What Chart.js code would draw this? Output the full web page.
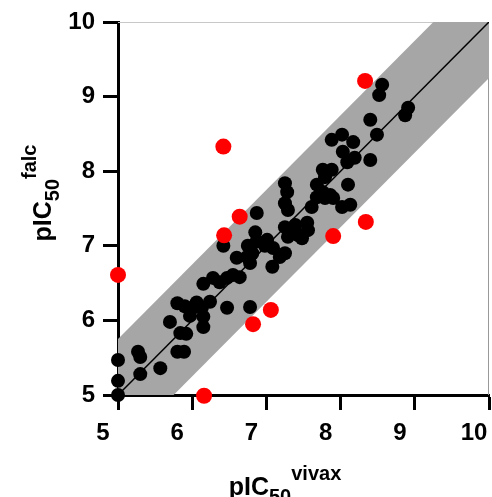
<!DOCTYPE html>
<html>
<head>
<meta charset="utf-8">
<script src="https://cdn.jsdelivr.net/npm/chart.js@4"></script>
<style>
  html, body { margin: 0; padding: 0; background: #fff; }
  canvas { display: block; }
</style>
</head>
<body>
<canvas id="chart" width="492" height="497"></canvas>
<script>
// Black compounds (within the band)
const blackX = [5.00, 5.00, 5.00, 5.27, 5.30, 5.30, 5.57, 5.70, 5.80, 5.89, 5.84, 5.92, 5.80, 5.90, 6.01, 5.97,
  6.13, 6.15, 6.24, 6.15, 6.47, 6.78, 6.15, 6.28, 6.37, 6.47, 6.55, 6.64, 6.42, 6.60, 6.78, 6.75,
  6.81, 6.85, 6.87, 6.87, 6.98, 7.01, 7.09, 7.08, 6.74, 7.18, 7.25, 7.36, 7.25, 7.39, 7.55, 7.43,
  7.29, 7.56, 7.48, 7.25, 7.28, 7.25, 7.29, 7.68, 7.61, 7.68, 7.76, 7.88, 7.79, 7.76, 7.86, 7.90,
  8.10, 8.02, 8.13, 7.88, 8.02, 8.17, 8.03, 8.09, 8.19, 8.40, 8.40, 8.49, 8.56, 8.52, 8.91, 8.87,
  7.79, 6.06];
const blackY = [5.00, 5.19, 5.47, 5.58, 5.51, 5.28, 5.36, 5.98, 5.58, 5.58, 5.83, 5.82, 6.23, 6.19, 6.17, 6.06,
  6.17, 6.05, 6.25, 5.91, 6.17, 6.18, 6.49, 6.57, 6.51, 6.57, 6.61, 6.58, 7.00, 6.84, 6.77, 7.00,
  6.90, 7.18, 7.06, 7.44, 7.00, 7.08, 6.97, 6.72, 6.85, 6.85, 6.90, 7.18, 7.25, 7.28, 7.31, 7.14,
  7.12, 7.21, 7.10, 7.84, 7.72, 7.57, 7.48, 7.82, 7.52, 7.65, 8.02, 8.02, 7.92, 7.72, 7.68, 7.64,
  7.82, 7.52, 7.55, 8.42, 8.49, 8.39, 8.26, 8.12, 8.18, 8.15, 8.69, 8.49, 9.16, 9.02, 8.85, 8.75,
  7.64, 6.24];

// Red compounds (outliers)
const redX = [5.00, 6.42, 8.33, 6.64, 6.43, 7.90, 8.34, 7.06, 6.82, 6.16];
const redY = [6.61, 8.33, 9.21, 7.39, 7.14, 7.13, 7.32, 6.14, 5.95, 4.99];

// Axis range and ticks
const axisMin = 5;
const axisMax = 10;
const tickStep = 1;
// Half width of the grey agreement band (log units)
const bandHalf = 0.75;
// x values that span the identity line
const lineX = [axisMin, axisMax];

const toPoints = (xs, ys) => xs.map((x, i) => ({ x: x, y: ys[i] }));

const FONT = "'Liberation Sans', Arial, sans-serif";

// Draw "pIC50^xxx" with a subscript and a superscript, centred on x
const drawTitle = function drawRichTitle(ctx, sup, cx, baseline) {
  const parts = [
    { t: 'pIC', size: 25, dy: 0 },
    { t: '50', size: 20, dy: 8 },
    { t: sup, size: 20, dy: -15 },
  ];
  let total = 0;
  parts.forEach((p) => {
    ctx.font = 'bold ' + p.size + 'px ' + FONT;
    p.w = ctx.measureText(p.t).width;
    total += p.w;
  });
  let x = cx - total / 2;
  ctx.fillStyle = '#000';
  ctx.textBaseline = 'alphabetic';
  ctx.textAlign = 'left';
  parts.forEach((p) => {
    ctx.font = 'bold ' + p.size + 'px ' + FONT;
    ctx.fillText(p.t, x, baseline + p.dy);
    x += p.w;
  });
};

const titlesPlugin = {
  id: 'titles',
  beforeDatasetsDraw(chart) {
    // thin frame on top and right
    const { ctx, chartArea } = chart;
    ctx.save();
    ctx.lineWidth = 1;
    ctx.strokeStyle = '#c8c8c8';
    ctx.beginPath();
    ctx.moveTo(chartArea.left, chartArea.top + 0.5);
    ctx.lineTo(chartArea.right, chartArea.top + 0.5);
    ctx.stroke();
    ctx.strokeStyle = '#999';
    ctx.beginPath();
    ctx.moveTo(chartArea.right - 0.5, chartArea.top);
    ctx.lineTo(chartArea.right - 0.5, chartArea.bottom);
    ctx.stroke();
    ctx.restore();
  },
  afterDraw(chart) {
    const ctx = chart.ctx;
    ctx.save();
    drawTitle(ctx, 'vivax', 285, 495);
    ctx.restore();
    ctx.save();
    ctx.translate(51, 193);
    ctx.rotate(-Math.PI / 2);
    drawTitle(ctx, 'falc', 0, 0);
    ctx.restore();
  },
};

const axisStyle = {
  min: axisMin,
  max: axisMax,
  border: { display: true, color: '#000', width: 3 },
  grid: {
    drawOnChartArea: false,
    drawTicks: true,
    tickLength: 15,
    tickWidth: 3,
    tickColor: '#000',
  },
};

new Chart(document.getElementById('chart'), {
  type: 'scatter',
  data: {
    datasets: [
      {
        type: 'line',
        data: toPoints(lineX, lineX.map((x) => x + bandHalf)),
        borderWidth: 0,
        pointRadius: 0,
        backgroundColor: 'rgb(166, 166, 166)',
        fill: '+1',
        order: 4,
      },
      {
        type: 'line',
        data: toPoints(lineX, lineX.map((x) => x - bandHalf)),
        borderWidth: 0,
        pointRadius: 0,
        fill: false,
        order: 3,
      },
      {
        type: 'line',
        data: toPoints(lineX, lineX),
        borderColor: '#000',
        borderWidth: 1.5,
        pointRadius: 0,
        fill: false,
        order: 2,
      },
      {
        data: toPoints(blackX, blackY),
        backgroundColor: '#000',
        borderWidth: 0,
        pointRadius: 7,
        clip: false,
        order: 1,
      },
      {
        data: toPoints(redX, redY),
        backgroundColor: 'rgb(255, 0, 0)',
        borderWidth: 0,
        pointRadius: 8,
        clip: false,
        order: 0,
      },
    ],
  },
  options: {
    responsive: false,
    animation: false,
    layout: { autoPadding: false, padding: { left: 0, right: 3, top: 22, bottom: 0 } },
    plugins: {
      legend: { display: false },
      tooltip: { enabled: false },
    },
    scales: {
      x: Object.assign({}, axisStyle, {
        type: 'linear',
        ticks: {
          stepSize: tickStep,
          color: '#000',
          padding: 9,
          labelOffset: -15,
          font: { family: FONT, size: 24, weight: 'bold' },
        },
        afterFit(scale) {
          scale.height = 102;
          scale.paddingLeft = 0;
          scale.paddingRight = 0;
        },
      }),
      y: Object.assign({}, axisStyle, {
        type: 'linear',
        ticks: {
          stepSize: tickStep,
          color: '#000',
          padding: 8,
          font: { family: FONT, size: 24, weight: 'bold' },
        },
        afterFit(scale) {
          scale.width = 118;
          scale.paddingTop = 0;
          scale.paddingBottom = 0;
        },
      }),
    },
  },
  plugins: [titlesPlugin],
});
</script>
</body>
</html>
